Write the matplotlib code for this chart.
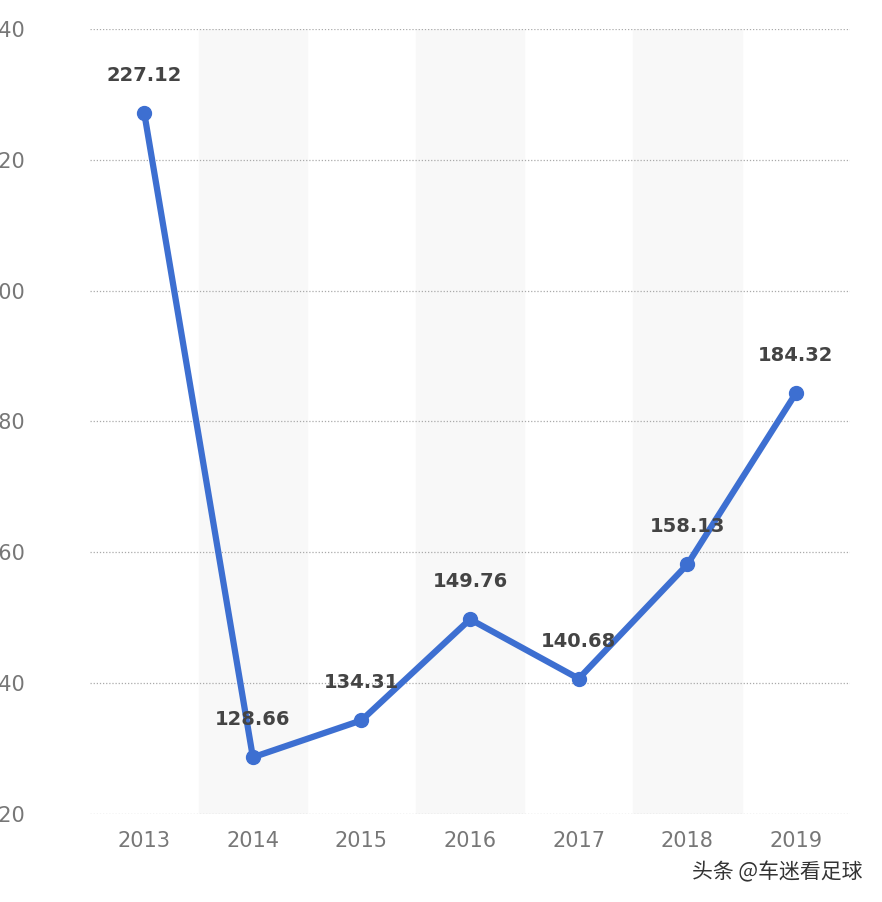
import matplotlib
matplotlib.use("Agg")
import matplotlib.pyplot as plt

years = ["2013", "2014", "2015", "2016", "2017", "2018", "2019"]
values = [227.12, 128.66, 134.31, 149.76, 140.68, 158.13, 184.32]
yticks = [120, 140, 160, 180, 200, 220, 240]

plt.rcParams['font.family'] = ['Noto Sans CJK SC', 'DejaVu Sans']
fig = plt.figure(figsize=(8.82, 9.02), dpi=100)
ax = fig.add_axes([0.102, 0.0976, 0.862, 0.8704])
x = list(range(len(years)))
for i in x:
    if i % 2 == 1:
        ax.axvspan(i - 0.5, i + 0.5, color="#f8f8f8", zorder=0)
for t in yticks:
    ax.axhline(t, color="#aaaaaa", linestyle=(0, (1, 1.5)), linewidth=0.9, zorder=1)
ax.plot(x, values, color="#3d6fd1", linewidth=4.5, marker="o", markersize=10, zorder=3)
for xi, v in zip(x, values):
    ax.text(xi, v + 4.3, f"{v:.2f}", ha="center", va="bottom", fontsize=14,
            color="#444444", fontweight="bold", family="DejaVu Sans", zorder=4)
ax.set_xlim(-0.5, 6.5)
ax.set_ylim(120, 240)
ax.set_xticks(x)
ax.set_xticklabels(years)
ax.set_yticks(yticks)
ax.tick_params(length=0, labelsize=15, colors="#777777", pad=12)
ax.tick_params(axis="y", pad=75)
for lbl in ax.get_yticklabels() + ax.get_xticklabels():
    lbl.set_family("DejaVu Sans")
for lbl in ax.get_yticklabels():
    lbl.set_horizontalalignment("left")
for s in ax.spines.values():
    s.set_visible(False)
fig.text(0.978, 0.033, "头条 @车迷看足球", ha="right", va="center", fontsize=15, color="#333333")
fig.savefig("out.png", dpi=100)
